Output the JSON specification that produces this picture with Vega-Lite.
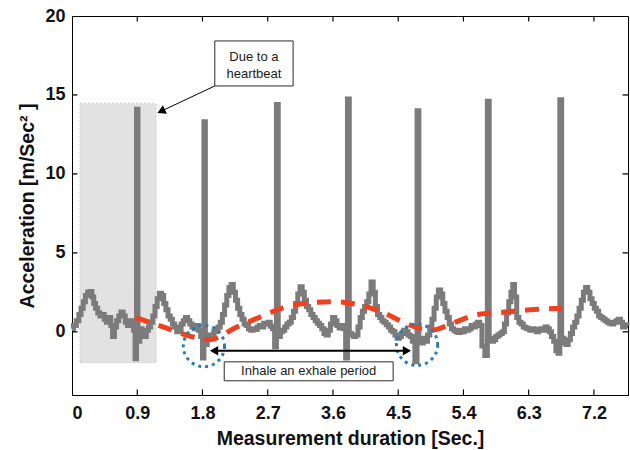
{
  "$schema": "https://vega.github.io/schema/vega-lite/v6.json",
  "width": 556,
  "height": 379,
  "autosize": {"type": "none"},
  "padding": {"left": 72, "top": 16, "right": 2, "bottom": 55},
  "background": "white",
  "config": {
    "view": {"stroke": "black", "strokeWidth": 1},
    "font": "Liberation Sans",
    "axis": {
      "domainColor": "black",
      "labelColor": "#111",
      "titleColor": "#111",
      "labelFont": "Liberation Sans",
      "titleFont": "Liberation Sans",
      "labelFontWeight": "bold",
      "titleFontWeight": "bold",
      "labelFontSize": 18,
      "titleFontSize": 19.5,
      "grid": false,
      "ticks": false
    }
  },
  "layer": [
    {
      "data": {"values": [{"x": 0.11, "x2": 1.16, "y": -1.95, "y2": 14.45}]},
      "mark": {"type": "rect", "fill": "#e2e2e2", "stroke": "#c4c4c4", "strokeWidth": 0.8, "strokeDash": [2, 2]},
      "encoding": {
        "x": {"field": "x", "type": "quantitative", "scale": {"domain": [0, 7.67], "nice": false}},
        "x2": {"field": "x2"},
        "y": {"field": "y", "type": "quantitative", "scale": {"domain": [-4, 20], "nice": false}},
        "y2": {"field": "y2"}
      }
    },
    {
      "data": {"values": [
        {"t": 0.0, "a": 0.2}, {"t": 0.04, "a": 0.4}, {"t": 0.08, "a": 0.7}, {"t": 0.11, "a": 1.1}, {"t": 0.14, "a": 1.5},
        {"t": 0.17, "a": 1.9}, {"t": 0.2, "a": 2.3}, {"t": 0.23, "a": 2.5}, {"t": 0.26, "a": 2.55}, {"t": 0.29, "a": 2.2},
        {"t": 0.31, "a": 1.8}, {"t": 0.34, "a": 1.5}, {"t": 0.37, "a": 1.2}, {"t": 0.4, "a": 1.0}, {"t": 0.43, "a": 1.1},
        {"t": 0.46, "a": 0.8}, {"t": 0.49, "a": 0.6}, {"t": 0.52, "a": 0.9}, {"t": 0.55, "a": 0.4}, {"t": 0.57, "a": -0.3},
        {"t": 0.6, "a": 0.3}, {"t": 0.63, "a": 0.7}, {"t": 0.66, "a": 1.0}, {"t": 0.69, "a": 1.25}, {"t": 0.72, "a": 1.0},
        {"t": 0.75, "a": 0.6}, {"t": 0.78, "a": 0.4}, {"t": 0.81, "a": 0.7}, {"t": 0.84, "a": 0.5}, {"t": 0.86, "a": 0.1},
        {"t": 0.88, "a": -1.7}, {"t": 0.9, "a": 14.1}, {"t": 0.92, "a": -0.6}, {"t": 0.95, "a": 0.2}, {"t": 0.98, "a": 0.0},
        {"t": 1.01, "a": -0.3}, {"t": 1.04, "a": 0.1}, {"t": 1.07, "a": 0.3}, {"t": 1.1, "a": 0.6}, {"t": 1.13, "a": 1.0},
        {"t": 1.16, "a": 1.6}, {"t": 1.19, "a": 2.1}, {"t": 1.22, "a": 2.45}, {"t": 1.25, "a": 2.3}, {"t": 1.28, "a": 1.8},
        {"t": 1.31, "a": 1.4}, {"t": 1.34, "a": 1.0}, {"t": 1.37, "a": 0.8}, {"t": 1.4, "a": 0.5}, {"t": 1.43, "a": 0.3},
        {"t": 1.46, "a": 0.0}, {"t": 1.49, "a": 0.1}, {"t": 1.52, "a": 0.5}, {"t": 1.55, "a": 0.7}, {"t": 1.58, "a": 0.9},
        {"t": 1.61, "a": 0.7}, {"t": 1.64, "a": 0.5}, {"t": 1.67, "a": 0.3}, {"t": 1.7, "a": 0.2}, {"t": 1.73, "a": 0.4},
        {"t": 1.76, "a": 0.1}, {"t": 1.79, "a": -0.3}, {"t": 1.81, "a": -1.65}, {"t": 1.83, "a": 13.3}, {"t": 1.85, "a": -0.8},
        {"t": 1.88, "a": -0.4}, {"t": 1.91, "a": -0.2}, {"t": 1.94, "a": -0.3}, {"t": 1.97, "a": 0.0}, {"t": 2.0, "a": 0.2},
        {"t": 2.03, "a": 0.3}, {"t": 2.06, "a": 0.6}, {"t": 2.09, "a": 1.1}, {"t": 2.12, "a": 1.7}, {"t": 2.15, "a": 2.3},
        {"t": 2.18, "a": 2.8}, {"t": 2.21, "a": 3.0}, {"t": 2.24, "a": 2.5}, {"t": 2.27, "a": 2.0}, {"t": 2.3, "a": 1.5},
        {"t": 2.33, "a": 1.1}, {"t": 2.36, "a": 0.8}, {"t": 2.39, "a": 0.5}, {"t": 2.42, "a": 0.4}, {"t": 2.45, "a": 0.2},
        {"t": 2.48, "a": 0.1}, {"t": 2.51, "a": 0.2}, {"t": 2.54, "a": 0.15}, {"t": 2.57, "a": 0.3}, {"t": 2.6, "a": 0.4},
        {"t": 2.63, "a": 0.3}, {"t": 2.66, "a": 0.55}, {"t": 2.69, "a": 0.5}, {"t": 2.72, "a": 0.6}, {"t": 2.75, "a": 0.35},
        {"t": 2.78, "a": 0.2}, {"t": 2.81, "a": -0.95}, {"t": 2.83, "a": 14.4}, {"t": 2.86, "a": -0.3}, {"t": 2.89, "a": 0.0},
        {"t": 2.92, "a": 0.1}, {"t": 2.95, "a": 0.3}, {"t": 2.98, "a": 0.5}, {"t": 3.01, "a": 0.6}, {"t": 3.04, "a": 0.9},
        {"t": 3.07, "a": 1.3}, {"t": 3.1, "a": 1.8}, {"t": 3.13, "a": 2.4}, {"t": 3.16, "a": 2.85}, {"t": 3.19, "a": 2.5},
        {"t": 3.22, "a": 2.0}, {"t": 3.25, "a": 1.6}, {"t": 3.28, "a": 1.4}, {"t": 3.31, "a": 1.1}, {"t": 3.34, "a": 0.9},
        {"t": 3.37, "a": 0.7}, {"t": 3.4, "a": 0.55}, {"t": 3.43, "a": 0.4}, {"t": 3.46, "a": 0.2}, {"t": 3.49, "a": -0.1},
        {"t": 3.52, "a": -0.2}, {"t": 3.55, "a": 0.1}, {"t": 3.58, "a": 0.5}, {"t": 3.61, "a": 0.9}, {"t": 3.64, "a": 0.7},
        {"t": 3.67, "a": 0.4}, {"t": 3.7, "a": 0.25}, {"t": 3.73, "a": 0.4}, {"t": 3.76, "a": 0.2}, {"t": 3.79, "a": -1.65},
        {"t": 3.81, "a": 14.75}, {"t": 3.84, "a": -0.1}, {"t": 3.87, "a": -0.2}, {"t": 3.9, "a": -0.3}, {"t": 3.93, "a": -0.2},
        {"t": 3.96, "a": 0.3}, {"t": 3.99, "a": 0.9}, {"t": 4.02, "a": 1.3}, {"t": 4.05, "a": 1.6}, {"t": 4.08, "a": 1.9},
        {"t": 4.11, "a": 2.4}, {"t": 4.14, "a": 3.15}, {"t": 4.17, "a": 2.5}, {"t": 4.2, "a": 1.6}, {"t": 4.23, "a": 1.1},
        {"t": 4.26, "a": 0.9}, {"t": 4.29, "a": 0.7}, {"t": 4.32, "a": 0.6}, {"t": 4.35, "a": 0.45}, {"t": 4.38, "a": 0.3},
        {"t": 4.41, "a": 0.1}, {"t": 4.44, "a": 0.0}, {"t": 4.47, "a": -0.2}, {"t": 4.5, "a": -0.4}, {"t": 4.53, "a": -0.3},
        {"t": 4.56, "a": -0.1}, {"t": 4.59, "a": 0.1}, {"t": 4.62, "a": 0.0}, {"t": 4.65, "a": -0.2}, {"t": 4.68, "a": -0.3},
        {"t": 4.71, "a": -0.6}, {"t": 4.75, "a": -1.9}, {"t": 4.77, "a": 14.0}, {"t": 4.8, "a": -0.5}, {"t": 4.83, "a": -0.7},
        {"t": 4.86, "a": -0.4}, {"t": 4.89, "a": -0.6}, {"t": 4.92, "a": -0.2}, {"t": 4.95, "a": 0.3}, {"t": 4.98, "a": 0.8},
        {"t": 5.01, "a": 1.5}, {"t": 5.04, "a": 2.2}, {"t": 5.07, "a": 2.65}, {"t": 5.1, "a": 2.4}, {"t": 5.13, "a": 1.8},
        {"t": 5.16, "a": 1.3}, {"t": 5.19, "a": 0.9}, {"t": 5.22, "a": 0.5}, {"t": 5.25, "a": 0.2}, {"t": 5.28, "a": 0.1},
        {"t": 5.31, "a": 0.0}, {"t": 5.34, "a": -0.05}, {"t": 5.37, "a": 0.1}, {"t": 5.4, "a": 0.0}, {"t": 5.43, "a": 0.2},
        {"t": 5.46, "a": 0.1}, {"t": 5.49, "a": 0.2}, {"t": 5.52, "a": 0.4}, {"t": 5.55, "a": 0.3}, {"t": 5.58, "a": 0.5},
        {"t": 5.61, "a": 0.6}, {"t": 5.64, "a": 0.4}, {"t": 5.67, "a": -0.9}, {"t": 5.72, "a": -1.5}, {"t": 5.74, "a": 14.6},
        {"t": 5.77, "a": -0.4}, {"t": 5.8, "a": -0.6}, {"t": 5.83, "a": -0.5}, {"t": 5.86, "a": -0.3}, {"t": 5.89, "a": -0.2},
        {"t": 5.92, "a": -0.1}, {"t": 5.95, "a": 0.0}, {"t": 5.98, "a": 0.5}, {"t": 6.01, "a": 1.2}, {"t": 6.04, "a": 1.9},
        {"t": 6.07, "a": 2.5}, {"t": 6.09, "a": 3.0}, {"t": 6.12, "a": 2.2}, {"t": 6.15, "a": 0.9}, {"t": 6.18, "a": 0.6},
        {"t": 6.21, "a": 0.5}, {"t": 6.24, "a": 0.3}, {"t": 6.27, "a": 0.25}, {"t": 6.3, "a": 0.2}, {"t": 6.33, "a": 0.1},
        {"t": 6.36, "a": 0.2}, {"t": 6.39, "a": 0.1}, {"t": 6.42, "a": 0.0}, {"t": 6.45, "a": 0.15}, {"t": 6.48, "a": 0.2},
        {"t": 6.51, "a": 0.1}, {"t": 6.54, "a": 0.3}, {"t": 6.57, "a": 0.2}, {"t": 6.6, "a": 0.0}, {"t": 6.63, "a": -0.3},
        {"t": 6.66, "a": -0.6}, {"t": 6.69, "a": -1.2}, {"t": 6.72, "a": -1.35}, {"t": 6.74, "a": 14.7}, {"t": 6.77, "a": -0.4},
        {"t": 6.8, "a": -0.7}, {"t": 6.83, "a": -0.8}, {"t": 6.86, "a": -0.5}, {"t": 6.89, "a": -0.1}, {"t": 6.92, "a": 0.3},
        {"t": 6.95, "a": 0.6}, {"t": 6.98, "a": 1.0}, {"t": 7.01, "a": 1.5}, {"t": 7.04, "a": 2.0}, {"t": 7.07, "a": 2.5},
        {"t": 7.1, "a": 2.8}, {"t": 7.13, "a": 2.5}, {"t": 7.16, "a": 2.1}, {"t": 7.19, "a": 1.8}, {"t": 7.22, "a": 1.5},
        {"t": 7.25, "a": 1.3}, {"t": 7.28, "a": 1.0}, {"t": 7.31, "a": 0.9}, {"t": 7.34, "a": 0.8}, {"t": 7.37, "a": 0.7},
        {"t": 7.4, "a": 0.6}, {"t": 7.43, "a": 0.55}, {"t": 7.46, "a": 0.5}, {"t": 7.49, "a": 0.6}, {"t": 7.52, "a": 0.7},
        {"t": 7.55, "a": 0.8}, {"t": 7.58, "a": 0.6}, {"t": 7.61, "a": 0.3}, {"t": 7.64, "a": 0.45}, {"t": 7.67, "a": 0.4}
      ]},
      "mark": {"type": "line", "color": "#7b7b7b", "strokeWidth": 5, "interpolate": "step", "strokeJoin": "miter"},
      "encoding": {
        "x": {"field": "t", "type": "quantitative", "scale": {"domain": [0, 7.67], "nice": false},
          "axis": {"orient": "bottom", "values": [0, 0.9, 1.8, 2.7, 3.6, 4.5, 5.4, 6.3, 7.2], "format": ".1~f", "title": "Measurement duration [Sec.]", "labelPadding": 9, "titlePadding": 7}},
        "y": {"field": "a", "type": "quantitative", "scale": {"domain": [-4, 20], "nice": false},
          "axis": {"orient": "left", "values": [0, 5, 10, 15, 20], "title": "Acceleration [m/Sec² ]", "labelPadding": 7, "titlePadding": 7}}
      }
    },
    {
      "data": {"values": [
        {"t": 0.88, "a": 0.9}, {"t": 1.3, "a": 0.25}, {"t": 1.65, "a": -0.3}, {"t": 1.9, "a": -0.5}, {"t": 2.25, "a": 0.25},
        {"t": 2.6, "a": 0.95}, {"t": 2.9, "a": 1.5}, {"t": 3.3, "a": 1.85}, {"t": 3.6, "a": 1.9}, {"t": 3.97, "a": 1.7},
        {"t": 4.3, "a": 1.2}, {"t": 4.6, "a": 0.55}, {"t": 4.85, "a": 0.15}, {"t": 4.95, "a": 0.1}, {"t": 5.28, "a": 0.6},
        {"t": 5.6, "a": 1.1}, {"t": 5.97, "a": 1.25}, {"t": 6.32, "a": 1.4}, {"t": 6.76, "a": 1.5}
      ]},
      "mark": {"type": "line", "color": "#f0401e", "strokeWidth": 5, "strokeDash": [14, 10], "interpolate": "monotone"},
      "encoding": {
        "x": {"field": "t", "type": "quantitative", "scale": {"domain": [0, 7.67], "nice": false}},
        "y": {"field": "a", "type": "quantitative", "scale": {"domain": [-4, 20], "nice": false}}
      }
    },
    {
      "data": {"values": [{"x": 1.82, "y": -0.9}, {"x": 4.76, "y": -0.82}]},
      "mark": {"type": "point", "shape": "circle", "size": 1700, "filled": false, "stroke": "#2b7bb0", "strokeWidth": 3, "strokeDash": [3, 4], "opacity": 1},
      "encoding": {
        "x": {"field": "x", "type": "quantitative", "scale": {"domain": [0, 7.67], "nice": false}},
        "y": {"field": "y", "type": "quantitative", "scale": {"domain": [-4, 20], "nice": false}}
      }
    },
    {
      "data": {"values": [{"x": 1.95, "x2": 4.64, "y": -1.2}]},
      "mark": {"type": "rule", "color": "black", "strokeWidth": 2},
      "encoding": {
        "x": {"field": "x", "type": "quantitative", "scale": {"domain": [0, 7.67], "nice": false}},
        "x2": {"field": "x2"},
        "y": {"field": "y", "type": "quantitative", "scale": {"domain": [-4, 20], "nice": false}}
      }
    },
    {
      "data": {"values": [{"x": 1.97, "y": 15.57, "x2": 1.22, "y2": 13.95}]},
      "mark": {"type": "rule", "color": "black", "strokeWidth": 1},
      "encoding": {
        "x": {"field": "x", "type": "quantitative", "scale": {"domain": [0, 7.67], "nice": false}},
        "x2": {"field": "x2"},
        "y": {"field": "y", "type": "quantitative", "scale": {"domain": [-4, 20], "nice": false}},
        "y2": {"field": "y2"}
      }
    },
    {
      "data": {"values": [
        {"x": 1.96, "y": -1.2, "ang": 180},
        {"x": 4.62, "y": -1.2, "ang": 0},
        {"x": 1.23, "y": 13.97, "ang": 155}
      ]},
      "mark": {"type": "point", "shape": "triangle-right", "filled": true, "color": "black", "opacity": 1, "size": 90},
      "encoding": {
        "x": {"field": "x", "type": "quantitative", "scale": {"domain": [0, 7.67], "nice": false}},
        "y": {"field": "y", "type": "quantitative", "scale": {"domain": [-4, 20], "nice": false}},
        "angle": {"field": "ang", "type": "quantitative", "scale": null}
      }
    },
    {
      "data": {"values": [
        {"x": 1.97, "x2": 3.05, "y": 15.57, "y2": 18.42},
        {"x": 2.1, "x2": 4.43, "y": -3.1, "y2": -1.9}
      ]},
      "mark": {"type": "rect", "fill": "white", "stroke": "#2a2a2a", "strokeWidth": 1},
      "encoding": {
        "x": {"field": "x", "type": "quantitative", "scale": {"domain": [0, 7.67], "nice": false}},
        "x2": {"field": "x2"},
        "y": {"field": "y", "type": "quantitative", "scale": {"domain": [-4, 20], "nice": false}},
        "y2": {"field": "y2"}
      }
    },
    {
      "data": {"values": [
        {"x": 2.51, "y": 17.4, "label": "Due to a"},
        {"x": 2.51, "y": 16.35, "label": "heartbeat"},
        {"x": 3.265, "y": -2.5, "label": "Inhale an exhale period"}
      ]},
      "mark": {"type": "text", "font": "Liberation Sans", "fontSize": 13, "color": "#1a1a1a", "align": "center", "baseline": "middle"},
      "encoding": {
        "x": {"field": "x", "type": "quantitative", "scale": {"domain": [0, 7.67], "nice": false}},
        "y": {"field": "y", "type": "quantitative", "scale": {"domain": [-4, 20], "nice": false}},
        "text": {"field": "label", "type": "nominal"}
      }
    },
    {
      "data": {"values": [
        {"x0": 0.892, "x1": 0.908, "lo": -4, "hi": -3.65}, {"x0": 1.792, "x1": 1.808, "lo": -4, "hi": -3.65},
        {"x0": 2.692, "x1": 2.708, "lo": -4, "hi": -3.65}, {"x0": 3.592, "x1": 3.608, "lo": -4, "hi": -3.65},
        {"x0": 4.492, "x1": 4.508, "lo": -4, "hi": -3.65}, {"x0": 5.392, "x1": 5.408, "lo": -4, "hi": -3.65},
        {"x0": 6.292, "x1": 6.308, "lo": -4, "hi": -3.65}, {"x0": 7.192, "x1": 7.208, "lo": -4, "hi": -3.65},
        {"x0": 0.892, "x1": 0.908, "lo": 19.65, "hi": 20}, {"x0": 1.792, "x1": 1.808, "lo": 19.65, "hi": 20},
        {"x0": 2.692, "x1": 2.708, "lo": 19.65, "hi": 20}, {"x0": 3.592, "x1": 3.608, "lo": 19.65, "hi": 20},
        {"x0": 4.492, "x1": 4.508, "lo": 19.65, "hi": 20}, {"x0": 5.392, "x1": 5.408, "lo": 19.65, "hi": 20},
        {"x0": 6.292, "x1": 6.308, "lo": 19.65, "hi": 20}, {"x0": 7.192, "x1": 7.208, "lo": 19.65, "hi": 20},
        {"x0": 0, "x1": 0.075, "lo": -0.04, "hi": 0.04}, {"x0": 0, "x1": 0.075, "lo": 4.96, "hi": 5.04},
        {"x0": 0, "x1": 0.075, "lo": 9.96, "hi": 10.04}, {"x0": 0, "x1": 0.075, "lo": 14.96, "hi": 15.04},
        {"x0": 7.595, "x1": 7.67, "lo": -0.04, "hi": 0.04}, {"x0": 7.595, "x1": 7.67, "lo": 4.96, "hi": 5.04},
        {"x0": 7.595, "x1": 7.67, "lo": 9.96, "hi": 10.04}, {"x0": 7.595, "x1": 7.67, "lo": 14.96, "hi": 15.04}
      ]},
      "mark": {"type": "rect", "fill": "#000000", "opacity": 1},
      "encoding": {
        "x": {"field": "x0", "type": "quantitative", "scale": {"domain": [0, 7.67], "nice": false}},
        "x2": {"field": "x1"},
        "y": {"field": "lo", "type": "quantitative", "scale": {"domain": [-4, 20], "nice": false}},
        "y2": {"field": "hi"}
      }
    }
  ]
}
